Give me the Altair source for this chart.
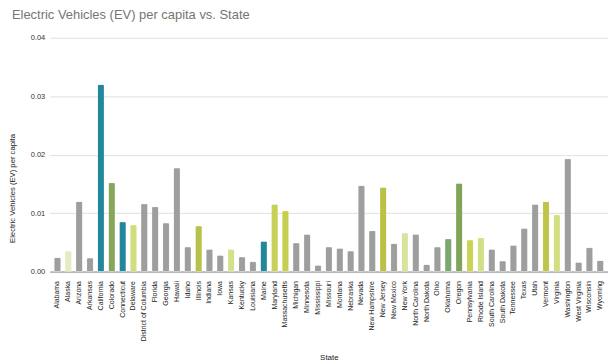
import altair as alt
import pandas as pd

states = ["Alabama", "Alaska", "Arizona", "Arkansas", "California", "Colorado", "Connecticut",
          "Delaware", "District of Columbia", "Florida", "Georgia", "Hawaii", "Idaho", "Illinois",
          "Indiana", "Iowa", "Kansas", "Kentucky", "Louisiana", "Maine", "Maryland", "Massachusetts",
          "Michigan", "Minnesota", "Mississippi", "Missouri", "Montana", "Nebraska", "Nevada",
          "New Hampshire", "New Jersey", "New Mexico", "New York", "North Carolina", "North Dakota",
          "Ohio", "Oklahoma", "Oregon", "Pennsylvania", "Rhode Island", "South Carolina",
          "South Dakota", "Tennessee", "Texas", "Utah", "Vermont", "Virginia", "Washington",
          "West Virginia", "Wisconsin", "Wyoming"]

ev_per_capita = [0.0024, 0.0035, 0.0120, 0.0023, 0.0320, 0.0152, 0.0085,
                 0.0080, 0.0116, 0.0111, 0.0083, 0.0177, 0.0042, 0.0078,
                 0.0038, 0.0028, 0.0038, 0.0025, 0.0017, 0.0052, 0.0115, 0.0104,
                 0.0049, 0.0064, 0.0011, 0.0042, 0.0040, 0.0035, 0.0147,
                 0.0070, 0.0144, 0.0048, 0.0066, 0.0064, 0.0012,
                 0.0042, 0.0056, 0.0151, 0.0054, 0.0058, 0.0038,
                 0.0018, 0.0045, 0.0074, 0.0115, 0.0120, 0.0097, 0.0193,
                 0.0016, 0.0041, 0.0019]

y_ticks = [0.0, 0.01, 0.02, 0.03, 0.04]

# style: bar colours per state (grey unless listed)
GREY = "#9e9e9e"
highlight = {
    "Alaska": "#e4ecc4", "California": "#23879b", "Colorado": "#86a65a",
    "Connecticut": "#23879b", "Delaware": "#d2de7e", "Illinois": "#b8c24a",
    "Kansas": "#d4e08a", "Maine": "#23879b", "Maryland": "#c7d057",
    "Massachusetts": "#c6d050", "New Jersey": "#bbc145", "New York": "#d8e49c",
    "Oklahoma": "#7aa86e", "Oregon": "#82a458", "Pennsylvania": "#c9d354",
    "Rhode Island": "#d3df85", "Vermont": "#bec548", "Virginia": "#d2de80",
}
color_range = [highlight.get(s, GREY) for s in states]

df = pd.DataFrame({"State": states, "EV": ev_per_capita})

FONT = "Liberation Sans"

chart = alt.Chart(df).mark_bar(
    cornerRadiusTopLeft=1.5, cornerRadiusTopRight=1.5,
    stroke="#ffffff", strokeWidth=0.4, strokeOpacity=0.6
).encode(
    x=alt.X("State:N", sort=states,
            scale=alt.Scale(paddingInner=0.38, paddingOuter=0.4),
            axis=alt.Axis(title="State", labelAngle=-90, labelFontSize=7, labelColor="#222222",
                          labelFont=FONT, ticks=False, labelPadding=9, domainColor="#8a8a8a",
                          titleFont=FONT, titleFontSize=8, titleFontWeight="normal",
                          titleColor="#222222", titlePadding=13, labelOverlap=False)),
    y=alt.Y("EV:Q", scale=alt.Scale(domain=[0, 0.04], nice=False),
            axis=alt.Axis(title="Electric Vehicles (EV) per capita", values=y_ticks, format=".2f",
                          labelFontSize=7.5, labelColor="#333333", labelFont=FONT,
                          ticks=False, labelPadding=5, domain=False, gridColor="#e0e0e0",
                          titleFont=FONT, titleFontSize=7.7, titleFontWeight="normal",
                          titleColor="#222222", titleX=-33, titleY=151)),
    color=alt.Color("State:N", scale=alt.Scale(domain=states, range=color_range), legend=None),
).properties(
    width=561, height=235,
    title=alt.TitleParams("Electric Vehicles (EV) per capita vs. State", anchor="start",
                          frame="group", font=FONT, fontSize=13, fontWeight="normal",
                          color="#757575", dx=-38, offset=12),
    autosize=alt.AutoSizeParams(type="none"),
    padding={"left": 50, "top": 37, "right": 0, "bottom": 92},
).configure_view(stroke=None)

chart.save("out.html", embed_options={"renderer": "svg", "actions": False})
